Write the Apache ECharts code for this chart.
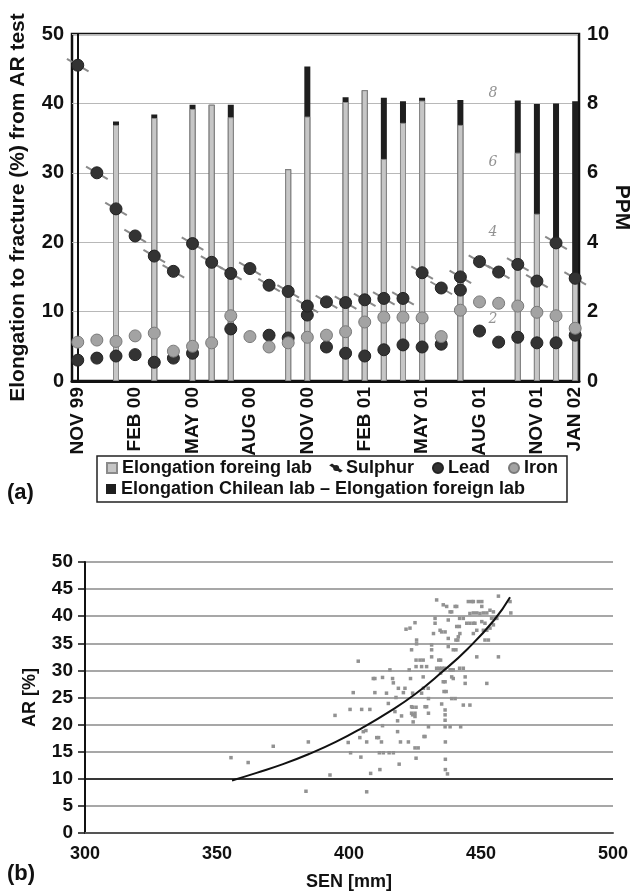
<!DOCTYPE html>
<html>
<head>
<meta charset="utf-8">
<script src="https://cdn.jsdelivr.net/npm/echarts@6/dist/echarts.min.js"></script>
<style>
  html, body { margin: 0; padding: 0; background: #fff; }
  #chart { width: 631px; height: 892px; }
</style>
</head>
<body>
<div id="chart"></div>
<script>
// (a) monthly series, NOV 99 .. JAN 02
const months = [
  "NOV 99", "DEC 99", "JAN 00", "FEB 00", "MAR 00", "APR 00", "MAY 00", "JUN 00", "JUL 00",
  "AUG 00", "SEP 00", "OCT 00", "NOV 00", "DEC 00", "JAN 01", "FEB 01", "MAR 01", "APR 01",
  "MAY 01", "JUN 01", "JUL 01", "AUG 01", "SEP 01", "OCT 01", "NOV 01", "DEC 01", "JAN 02",
];
const labeledMonths = ["NOV 99", "FEB 00", "MAY 00", "AUG 00", "NOV 00", "FEB 01", "MAY 01", "AUG 01", "NOV 01", "JAN 02"];

const elongationForeign = [
  null, null, 36.9, null, 37.9, null, 39.2, 39.8, 38.0, null, null, 30.5, 38.1, null,
  40.2, 41.9, 32.0, 37.2, 40.4, null, 36.9, null, null, 32.9, 24.1, 20.2, 14.5,
];
const elongationChileanMinusForeign = [
  null, null, 0.5, null, 0.5, null, 0.6, 0, 1.8, null, null, 0, 7.2, null,
  0.7, 0, 8.8, 3.1, 0.4, null, 3.6, null, null, 7.5, 15.8, 19.8, 25.8,
];
const sulphur = [
  45.5, 30.0, 24.8, 20.9, 18.0, 15.8, 19.8, 17.1, 15.5, 16.2, 13.8, 12.9, 10.8, 11.4,
  11.3, 11.7, 11.9, 11.9, 15.6, 13.4, 15.0, 17.2, 15.7, 16.8, 14.4, 19.9, 14.8,
];
const lead = [
  3.0, 3.3, 3.6, 3.8, 2.7, 3.3, 4.0, null, 7.5, null, 6.6, 6.2, 9.5, 4.9,
  4.0, 3.6, 4.5, 5.2, 4.9, 5.3, 13.1, 7.2, 5.6, 6.3, 5.5, 5.5, 6.6,
];
const iron = [
  5.6, 5.9, 5.7, 6.5, 6.9, 4.3, 5.0, 5.5, 9.4, 6.4, 4.9, 5.5, 6.3, 6.6,
  7.1, 8.5, 9.2, 9.2, 9.1, 6.4, 10.2, 11.4, 11.2, 10.8, 9.9, 9.4, 7.6,
];
// hand-written PPM marks on the figure
const ppmNotes = ["8", "6", "4", "2"];

// (b) SEN vs AR
const senArPoints = [
  [355.3, 13.9], [361.8, 13.0], [371.3, 16.0], [383.7, 7.7], [384.6, 16.8], [392.8, 10.7], [394.7, 21.7],
  [399.7, 16.7], [400.6, 14.8], [400.4, 22.8], [401.6, 25.9], [403.5, 31.7], [404.1, 17.6], [404.5, 14.0],
  [404.8, 22.8], [406.7, 16.8], [406.7, 7.6], [405.4, 18.7], [406.4, 18.9], [407.9, 22.8], [408.2, 11.0],
  [409.2, 28.5], [409.8, 28.5], [409.8, 25.9], [410.5, 17.6], [411.2, 17.6], [411.7, 11.7], [412.3, 16.8],
  [411.5, 14.8], [413.0, 14.8], [412.7, 28.7], [412.7, 19.8], [414.2, 25.8], [414.9, 23.9], [415.2, 14.8],
  [416.8, 14.8], [415.5, 30.1], [416.5, 28.5], [416.8, 27.7], [417.4, 22.4], [417.8, 25.0], [418.4, 20.7],
  [418.4, 18.7], [418.7, 26.7], [419.0, 12.7], [419.5, 16.8], [419.9, 21.6], [420.6, 25.9], [421.2, 26.7],
  [421.6, 37.6], [423.1, 37.8], [422.5, 16.8], [422.8, 30.1], [423.3, 28.5], [423.7, 23.3], [424.1, 21.8],
  [424.3, 20.5], [424.1, 25.8], [423.7, 33.8], [425.0, 38.8], [425.6, 35.6], [425.6, 34.9], [425.4, 31.9],
  [426.9, 31.9], [428.1, 31.9], [425.4, 30.7], [427.5, 30.7], [429.4, 30.7], [427.5, 25.8], [428.1, 28.8],
  [428.8, 17.8], [425.0, 15.7], [426.2, 15.7], [425.4, 13.8], [424.1, 23.2], [425.4, 23.2], [423.7, 22.1],
  [425.0, 22.1], [425.0, 21.5], [430.0, 26.7], [429.4, 23.3],
  [428.2, 26.7], [428.8, 23.3], [428.4, 17.8], [430.1, 24.8], [430.1, 22.1], [430.1, 19.6], [431.3, 34.7],
  [431.3, 33.8], [431.3, 32.5], [432.0, 36.8], [432.6, 39.6], [432.6, 38.7], [433.2, 43.0], [434.0, 31.9],
  [434.7, 31.9], [433.2, 30.4], [434.2, 30.4], [435.2, 30.4], [436.2, 30.4], [434.5, 37.4], [435.1, 37.1],
  [436.4, 37.1], [434.7, 29.5], [435.1, 23.8], [435.7, 42.1], [437.0, 41.8], [435.7, 27.9], [436.4, 27.9],
  [436.0, 26.1], [436.8, 26.1], [436.4, 22.7], [436.4, 21.8], [436.4, 20.8], [436.4, 19.6], [436.5, 16.8],
  [436.5, 13.6], [436.5, 11.7], [437.3, 10.9], [437.6, 39.3], [437.6, 35.9], [437.6, 34.4], [438.3, 40.8],
  [438.9, 40.8], [438.3, 30.1], [438.9, 30.1], [439.5, 30.1], [438.9, 28.8], [439.5, 28.5], [438.3, 19.6],
  [438.9, 24.8], [440.2, 24.8], [439.5, 33.8], [440.5, 33.8], [440.2, 41.8], [440.8, 41.8], [440.5, 35.6],
  [441.2, 35.6], [440.8, 38.1], [441.8, 38.1], [441.4, 36.2], [442.0, 36.8], [441.9, 39.6], [443.3, 39.6],
  [441.9, 30.4], [443.3, 30.4], [442.3, 19.6], [443.3, 23.6], [445.8, 23.6], [444.0, 28.8], [444.0, 27.6],
  [444.6, 38.7], [445.8, 38.7], [445.2, 42.7], [446.5, 42.7], [447.1, 42.7], [445.8, 40.5], [447.1, 40.6],
  [448.4, 40.6], [447.1, 36.8], [448.4, 37.4], [447.1, 38.7], [447.7, 38.7], [448.4, 32.5], [449.0, 42.7],
  [450.3, 42.7], [450.3, 41.8], [449.6, 40.5], [450.9, 40.6], [452.2, 40.6], [450.3, 39.0], [451.5, 38.7],
  [450.9, 37.4], [452.2, 37.4], [453.4, 37.8], [451.5, 35.6], [452.8, 35.6], [452.2, 27.6], [453.4, 41.1],
  [454.7, 40.8], [454.0, 39.6], [455.3, 39.6], [454.7, 38.4], [456.0, 39.6], [456.6, 43.7], [456.6, 32.5],
  [461.0, 42.7], [461.3, 40.6],
];
// trend curve, every ~10 mm
const fitCurve = [
  [355.7, 9.7], [365, 11.1], [375, 12.7], [385, 14.6], [395, 16.8], [405, 19.4],
  [415, 22.3], [425, 25.6], [435, 29.6], [445, 34.0], [455, 39.3], [461, 43.5],
];
const arReferenceLine = 10;

const labeledIndex = labeledMonths.map((m) => months.indexOf(m));
const byMonth = (values) => values.map((v, i) => [i, v]);
// Chilean lab value = foreign + difference; drawn behind the foreign bar so only the difference shows
const elongationChilean = elongationForeign.map((v, i) => (v === null ? null : v + elongationChileanMinusForeign[i]));

const boldText = { fontFamily: "Liberation Sans, Arial, sans-serif", fontWeight: "bold", color: "#111" };
const legendText = { ...boldText, fontSize: 18 };
const sulphurIcon = "path://M0,1L1.6,0L16,9.4L14.4,10.4Z M5,5.2A3.2,3.2 0 1 1 11.4,5.2A3.2,3.2 0 1 1 5,5.2Z";
const chileanName = "Elongation Chilean lab \u2013 Elongation foreign lab";

const chart = echarts.init(document.getElementById("chart"), null, { renderer: "canvas" });

chart.setOption({
  animation: false,
  backgroundColor: "#fff",
  title: [
    { text: "(a)", left: 2, top: 477, textStyle: { ...boldText, fontSize: 22 } },
    { text: "(b)", left: 2, top: 858, textStyle: { ...boldText, fontSize: 22 } },
  ],
  legend: [
    {
      left: 97,
      top: 456,
      padding: [3, 9, 25, 9],
      itemGap: 18,
      itemWidth: 10,
      itemHeight: 10,
      borderColor: "#222",
      borderWidth: 1.5,
      textStyle: legendText,
      data: [
        { name: "Elongation foreing lab", icon: "rect" },
        { name: "Sulphur", icon: sulphurIcon },
        { name: "Lead", icon: "circle" },
        { name: "Iron", icon: "circle" },
      ],
    },
    {
      left: 106,
      top: 480,
      padding: 0,
      itemWidth: 10,
      itemHeight: 10,
      textStyle: legendText,
      data: [{ name: chileanName, icon: "rect" }],
    },
  ],
  grid: [
    { left: 72, right: 52, top: 34, bottom: 511, outerBoundsMode: "none", show: true, borderColor: "#111", borderWidth: 2.5 },
    { left: 85, right: 18, top: 562, bottom: 59, outerBoundsMode: "none" },
  ],
  xAxis: [
    {
      gridIndex: 0,
      type: "value",
      min: -0.3,
      max: 26.2,
      axisLine: { show: true, lineStyle: { color: "#111", width: 3 } },
      axisTick: { show: false },
      splitLine: { show: false },
      axisLabel: {
        ...boldText,
        fontSize: 19,
        rotate: 90,
        margin: 6,
        customValues: labeledIndex,
        formatter: (v) => months[v],
      },
    },
    {
      gridIndex: 1,
      type: "value",
      min: 300,
      max: 500,
      interval: 50,
      axisLine: { show: true, onZero: false, lineStyle: { color: "#555", width: 2 } },
      axisTick: { show: false },
      splitLine: { show: false },
      axisLabel: { ...boldText, fontSize: 18, margin: 12 },
      name: "SEN [mm]",
      nameLocation: "middle",
      nameGap: 40,
      nameTextStyle: { ...boldText, fontSize: 18 },
    },
  ],
  yAxis: [
    {
      gridIndex: 0,
      type: "value",
      min: 0,
      max: 50,
      interval: 10,
      axisLine: { show: true, lineStyle: { color: "#111", width: 2 } },
      axisTick: { show: false },
      axisLabel: { ...boldText, fontSize: 20, margin: 8 },
      splitLine: { lineStyle: { color: "#b8b8b8", width: 1 } },
      name: "Elongation to fracture (%) from AR test",
      nameLocation: "middle",
      nameGap: 43,
      nameTextStyle: { ...boldText, fontSize: 21 },
    },
    {
      gridIndex: 0,
      type: "value",
      position: "right",
      min: 0,
      max: 10,
      interval: 2,
      axisLine: { show: true, lineStyle: { color: "#111", width: 2 } },
      axisTick: { show: false },
      axisLabel: { ...boldText, fontSize: 20, margin: 8 },
      splitLine: { show: false },
      name: "PPM",
      nameLocation: "middle",
      nameRotate: -90,
      nameGap: 32,
      nameMoveOverlap: false,
      nameTextStyle: { ...boldText, fontSize: 21 },
    },
    {
      gridIndex: 1,
      type: "value",
      min: 0,
      max: 50,
      interval: 5,
      axisLine: { show: true, lineStyle: { color: "#111", width: 2 } },
      axisTick: { show: true, length: 7, lineStyle: { color: "#111", width: 1.5 } },
      axisLabel: { ...boldText, fontSize: 19, margin: 12 },
      splitLine: { lineStyle: { color: "#8a8a8a", width: 1.5 } },
      name: "AR [%]",
      nameLocation: "middle",
      nameGap: 46,
      nameTextStyle: { ...boldText, fontSize: 18 },
    },
  ],
  series: [
    {
      name: chileanName,
      type: "bar",
      xAxisIndex: 0,
      yAxisIndex: 0,
      barWidth: 6,
      barGap: "-100%",
      itemStyle: { color: "#1e1e1e" },
      data: byMonth(elongationChilean),
    },
    {
      name: "Elongation foreing lab",
      type: "bar",
      xAxisIndex: 0,
      yAxisIndex: 0,
      barWidth: 6,
      barGap: "-100%",
      itemStyle: { color: "#c6c6c6", borderColor: "#8a8a8a", borderWidth: 1 },
      data: byMonth(elongationForeign),
    },
    {
      name: "Lead",
      type: "scatter",
      xAxisIndex: 0,
      yAxisIndex: 0,
      symbol: "circle",
      symbolSize: 12,
      itemStyle: { color: "#333", borderColor: "#222", borderWidth: 1, opacity: 1 },
      data: byMonth(lead),
    },
    {
      name: "Iron",
      type: "scatter",
      xAxisIndex: 0,
      yAxisIndex: 0,
      symbol: "circle",
      symbolSize: 12,
      itemStyle: { color: "#a3a3a3", borderColor: "#7a7a7a", borderWidth: 1, opacity: 1 },
      data: byMonth(iron),
    },
    {
      name: "Sulphur slash",
      type: "scatter",
      xAxisIndex: 0,
      yAxisIndex: 0,
      symbol: "rect",
      symbolSize: [25, 2],
      symbolRotate: -30,
      itemStyle: { color: "#8a8a8a", opacity: 1 },
      data: byMonth(sulphur),
    },
    {
      name: "Sulphur",
      type: "scatter",
      xAxisIndex: 0,
      yAxisIndex: 0,
      symbol: "circle",
      symbolSize: 12,
      itemStyle: { color: "#333", borderColor: "#222", borderWidth: 1, opacity: 1 },
      data: byMonth(sulphur),
    },
    {
      name: "PPM notes",
      type: "scatter",
      xAxisIndex: 0,
      yAxisIndex: 1,
      symbolSize: 0,
      silent: true,
      label: {
        show: true,
        formatter: (p) => p.data.text,
        fontFamily: "DejaVu Serif, serif",
        fontStyle: "italic",
        fontSize: 14,
        color: "#777",
      },
      data: ppmNotes.map((t) => ({ value: [21.7, Number(t)], text: t, label: { offset: [0, t === "2" ? 8 : -10] } })),
    },
    {
      name: "AR",
      type: "scatter",
      xAxisIndex: 1,
      yAxisIndex: 2,
      symbol: "rect",
      symbolSize: 3.5,
      itemStyle: { color: "#929292", opacity: 1 },
      data: senArPoints,
      markLine: {
        silent: true,
        symbol: "none",
        label: { show: false },
        lineStyle: { color: "#111", width: 1.5, type: "solid" },
        data: [{ yAxis: arReferenceLine }],
      },
    },
    {
      name: "Fit",
      type: "line",
      xAxisIndex: 1,
      yAxisIndex: 2,
      smooth: true,
      showSymbol: false,
      lineStyle: { color: "#111", width: 2 },
      data: fitCurve,
    },
  ],
});
</script>
</body>
</html>
